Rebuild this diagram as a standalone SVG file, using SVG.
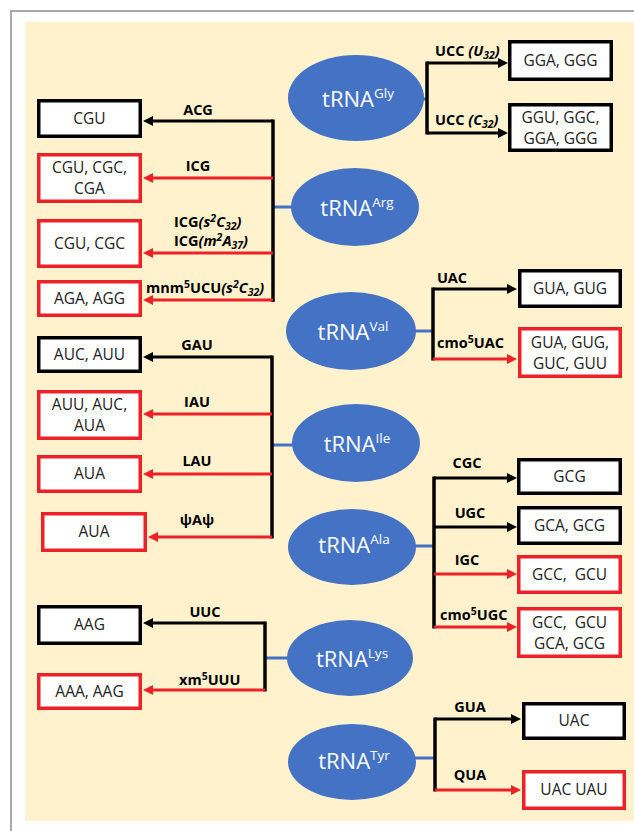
<svg xmlns="http://www.w3.org/2000/svg" width="634" height="831" viewBox="0 0 634 831">
<defs>
<marker id="ab" viewBox="0 0 10 10" markerUnits="userSpaceOnUse" markerWidth="10" markerHeight="10" refX="2" refY="5" orient="auto"><path d="M0,0 L10,5 L0,10 z" fill="#000"/></marker>
<marker id="ar" viewBox="0 0 10 10" markerUnits="userSpaceOnUse" markerWidth="10" markerHeight="10" refX="2" refY="5" orient="auto"><path d="M0,0 L10,5 L0,10 z" fill="#EE2128"/></marker>
</defs>
<style>
.frame{stroke:#A9A9A9;stroke-width:2;fill:none}
.ell{fill:#4472C4}
.et{font-family:"Open Sans","Liberation Sans",sans-serif;font-size:22px;fill:#fff;text-anchor:middle}
.sup{font-size:13.5px}
.bb{fill:#fff;stroke:#000;stroke-width:3.5}
.rb{fill:#fff;stroke:#EE2128;stroke-width:3.5}
.bt{font-family:"Open Sans","Liberation Sans",sans-serif;font-size:15.5px;fill:#222;text-anchor:middle}
.lb{font-family:"Open Sans","Liberation Sans",sans-serif;font-size:14.5px;font-weight:bold;fill:#000}
.mid{text-anchor:middle}
.it{font-style:italic}
.sm{font-size:10.5px}
.blue{stroke:#4472C4;stroke-width:3;fill:none}
.vk{stroke:#000;stroke-width:3.5;fill:none}
.ck{stroke:#000;stroke-width:3;fill:none;marker-end:url(#ab)}
.cr{stroke:#EE2128;stroke-width:3;fill:none;marker-end:url(#ar)}
</style>
<rect x="0" y="0" width="634" height="831" fill="#fff"/>
<path class="frame" d="M11,831 V11 H634"/>
<rect x="25" y="22" width="609" height="799" fill="#FFF2CC"/>

<g id="connectors">
<path class="blue" d="M420,99 H427"/>
<path class="vk" d="M427,61.5 V134.5"/>
<path class="ck" d="M427,63 H500"/>
<path class="ck" d="M427,133 H500"/>
<path class="blue" d="M273,207 H292"/>
<path class="vk" d="M273,119.5 V302"/>
<path class="ck" d="M273,121 H151"/>
<path class="cr" d="M273,178 H151"/>
<path class="cr" d="M273,253 H151"/>
<path class="cr" d="M273,300 H151"/>
<path class="blue" d="M414,331 H433"/>
<path class="vk" d="M433,287.5 V360.5"/>
<path class="ck" d="M433,289 H509"/>
<path class="cr" d="M433,359 H509"/>
<path class="blue" d="M272,445 H294"/>
<path class="vk" d="M272,355.5 V538.5"/>
<path class="ck" d="M272,357 H151"/>
<path class="cr" d="M272,414 H151"/>
<path class="cr" d="M272,474 H151"/>
<path class="cr" d="M272,537 H156"/>
<path class="blue" d="M414,546 H434"/>
<path class="vk" d="M434,476.5 V628.5"/>
<path class="ck" d="M434,478 H509"/>
<path class="ck" d="M434,527 H509"/>
<path class="cr" d="M434,574 H509"/>
<path class="cr" d="M434,627 H509"/>
<path class="blue" d="M265,658 H289"/>
<path class="vk" d="M265,621.5 V691.5"/>
<path class="ck" d="M265,623 H151"/>
<path class="cr" d="M265,690 H151"/>
<path class="blue" d="M415,758 H435"/>
<path class="vk" d="M435,717.5 V791.5"/>
<path class="ck" d="M435,719 H513"/>
<path class="cr" d="M435,790 H513"/>
</g>

<g id="labels">
<text class="lb" x="435" y="56">UCC <tspan class="it">(U</tspan><tspan class="it sm" dy="3">32</tspan><tspan class="it" dy="-3">)</tspan></text>
<text class="lb" x="435" y="125">UCC <tspan class="it">(C</tspan><tspan class="it sm" dy="3">32</tspan><tspan class="it" dy="-3">)</tspan></text>
<text class="lb mid" x="198" y="115">ACG</text>
<text class="lb mid" x="198" y="171">ICG</text>
<text class="lb" x="174" y="227">ICG<tspan class="it">(s</tspan><tspan class="it sm" dy="-5">2</tspan><tspan class="it" dy="5">C</tspan><tspan class="it sm" dy="3">32</tspan><tspan class="it" dy="-3">)</tspan></text>
<text class="lb" x="174" y="246">ICG<tspan class="it">(m</tspan><tspan class="it sm" dy="-5">2</tspan><tspan class="it" dy="5">A</tspan><tspan class="it sm" dy="3">37</tspan><tspan class="it" dy="-3">)</tspan></text>
<text class="lb" x="146" y="293">mnm<tspan class="sm" dy="-5">5</tspan><tspan dy="5">UCU</tspan><tspan class="it">(s</tspan><tspan class="it sm" dy="-5">2</tspan><tspan class="it" dy="5">C</tspan><tspan class="it sm" dy="3">32</tspan><tspan class="it" dy="-3">)</tspan></text>
<text class="lb mid" x="452" y="283">UAC</text>
<text class="lb" x="437" y="348">cmo<tspan class="sm" dy="-5">5</tspan><tspan dy="5">UAC</tspan></text>
<text class="lb mid" x="197" y="350">GAU</text>
<text class="lb mid" x="197" y="407">IAU</text>
<text class="lb mid" x="197" y="466">LAU</text>
<text class="lb mid" x="197" y="525">ψAψ</text>
<text class="lb mid" x="467" y="468">CGC</text>
<text class="lb mid" x="470" y="518">UGC</text>
<text class="lb mid" x="467" y="565">IGC</text>
<text class="lb" x="440" y="620">cmo<tspan class="sm" dy="-5">5</tspan><tspan dy="5">UGC</tspan></text>
<text class="lb mid" x="205" y="617">UUC</text>
<text class="lb" x="179" y="685">xm<tspan class="sm" dy="-5">5</tspan><tspan dy="5">UUU</tspan></text>
<text class="lb mid" x="470" y="712">GUA</text>
<text class="lb mid" x="470" y="780">QUA</text>
</g>

<g id="tRNA-Gly"><ellipse class="ell" cx="356" cy="98" rx="68" ry="43"/><text class="et" x="358" y="107">tRNA<tspan class="sup" dy="-9">Gly</tspan></text></g>
<g id="tRNA-Arg"><ellipse class="ell" cx="355" cy="207" rx="64" ry="39"/><text class="et" x="357" y="216">tRNA<tspan class="sup" dy="-9">Arg</tspan></text></g>
<g id="tRNA-Val"><ellipse class="ell" cx="351" cy="331" rx="65" ry="39"/><text class="et" x="353" y="340">tRNA<tspan class="sup" dy="-9">Val</tspan></text></g>
<g id="tRNA-Ile"><ellipse class="ell" cx="356" cy="443" rx="64" ry="39"/><text class="et" x="357" y="452">tRNA<tspan class="sup" dy="-9">Ile</tspan></text></g>
<g id="tRNA-Ala"><ellipse class="ell" cx="352" cy="547" rx="64" ry="38"/><text class="et" x="354" y="553">tRNA<tspan class="sup" dy="-9">Ala</tspan></text></g>
<g id="tRNA-Lys"><ellipse class="ell" cx="350" cy="658" rx="63" ry="38"/><text class="et" x="352" y="667">tRNA<tspan class="sup" dy="-9">Lys</tspan></text></g>
<g id="tRNA-Tyr"><ellipse class="ell" cx="352" cy="762" rx="64" ry="38"/><text class="et" x="354" y="769">tRNA<tspan class="sup" dy="-9">Tyr</tspan></text></g>

<g id="box-GGA-GGG"><rect class="bb" x="509.75" y="41.75" width="101.5" height="37.5"/><text class="bt" x="560.5" y="66">GGA, GGG</text></g>
<g id="box-GGU-GGC-GGA-GGG"><rect class="bb" x="509.75" y="104.75" width="101.5" height="45.5"/><text class="bt" x="560.5" y="123">GGU, GGC,</text><text class="bt" x="560.5" y="144">GGA, GGG</text></g>

<g id="box-CGU"><rect class="bb" x="38.75" y="100.75" width="101.5" height="35.5"/><text class="bt" x="89.5" y="124">CGU</text></g>
<g id="box-CGU-CGC-CGA"><rect class="rb" x="38.75" y="154.75" width="101.5" height="46.5"/><text class="bt" x="89.5" y="173">CGU, CGC,</text><text class="bt" x="89.5" y="194">CGA</text></g>
<g id="box-CGU-CGC"><rect class="rb" x="38.75" y="220.75" width="101.5" height="45.5"/><text class="bt" x="89.5" y="249">CGU, CGC</text></g>
<g id="box-AGA-AGG"><rect class="rb" x="38.75" y="281.75" width="101.5" height="33.5"/><text class="bt" x="89.5" y="304">AGA, AGG</text></g>

<g id="box-GUA-GUG"><rect class="bb" x="519.75" y="270.75" width="100.5" height="35.5"/><text class="bt" x="570" y="294">GUA, GUG</text></g>
<g id="box-GUA-GUG-GUC-GUU"><rect class="rb" x="519.75" y="328.75" width="100.5" height="47.5"/><text class="bt" x="570" y="348">GUA, GUG,</text><text class="bt" x="570" y="369">GUC, GUU</text></g>

<g id="box-AUC-AUU"><rect class="bb" x="38.75" y="337.75" width="101.5" height="33.5"/><text class="bt" x="89.5" y="360">AUC, AUU</text></g>
<g id="box-AUU-AUC-AUA"><rect class="rb" x="38.75" y="391.75" width="101.5" height="46.5"/><text class="bt" x="89.5" y="410">AUU, AUC,</text><text class="bt" x="89.5" y="431">AUA</text></g>
<g id="box-AUA-1"><rect class="rb" x="38.75" y="456.75" width="101.5" height="34.5"/><text class="bt" x="89.5" y="479">AUA</text></g>
<g id="box-AUA-2"><rect class="rb" x="42.75" y="513.75" width="102.5" height="36.5"/><text class="bt" x="94" y="537">AUA</text></g>

<g id="box-GCG"><rect class="bb" x="518.75" y="459.75" width="101.5" height="33.5"/><text class="bt" x="569.5" y="482">GCG</text></g>
<g id="box-GCA-GCG"><rect class="bb" x="518.75" y="507.75" width="101.5" height="35.5"/><text class="bt" x="569.5" y="531">GCA, GCG</text></g>
<g id="box-GCC-GCU"><rect class="rb" x="518.75" y="556.75" width="101.5" height="35.5"/><text class="bt" x="569.5" y="580" xml:space="preserve">GCC,  GCU</text></g>
<g id="box-GCC-GCU-GCA-GCG"><rect class="rb" x="518.75" y="608.75" width="101.5" height="47.5"/><text class="bt" x="569.5" y="628" xml:space="preserve">GCC,  GCU</text><text class="bt" x="569.5" y="649">GCA, GCG</text></g>

<g id="box-AAG"><rect class="bb" x="38.75" y="606.75" width="101.5" height="36.5"/><text class="bt" x="89.5" y="630">AAG</text></g>
<g id="box-AAA-AAG"><rect class="rb" x="38.75" y="674.75" width="101.5" height="33.5"/><text class="bt" x="89.5" y="697">AAA, AAG</text></g>

<g id="box-UAC"><rect class="bb" x="523.75" y="703.75" width="100.5" height="34.5"/><text class="bt" x="574" y="726">UAC</text></g>
<g id="box-UAC-UAU"><rect class="rb" x="523.75" y="771.75" width="100.5" height="36.5"/><text class="bt" x="574" y="795">UAC UAU</text></g>
</svg>
